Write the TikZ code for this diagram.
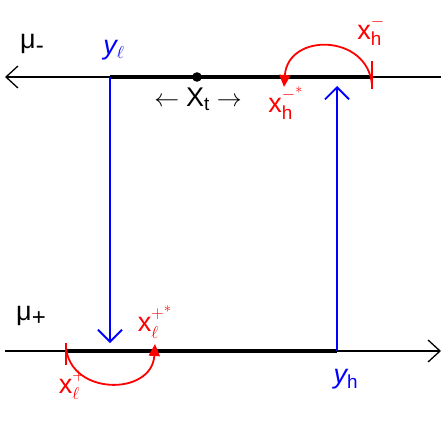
\documentclass[tikz,border=0pt]{standalone}
\usepackage{fontspec}
\setmainfont{Liberation Sans}
\usetikzlibrary{arrows.meta}
\newcommand\upsup[1]{\raisebox{4pt}{$\scriptstyle #1$}}
\begin{document}
\begin{tikzpicture}[x=1pt,y=-1pt,
  axis/.style={line width=1.3pt,black},
  seg/.style={line width=3.4pt,black},
  blueline/.style={blue,line width=1.8pt,-{Straight Barb[length=12pt,width=24pt,line width=1.8pt]}},
  redtick/.style={red,line width=1.8pt},
  redarc/.style={red,line width=1.8pt,-{Triangle[length=12pt,width=11pt]}},
  lab/.style={font=\fontsize{27}{30}\selectfont,inner sep=0pt},
  redlab/.style={lab,red},
  bluelab/.style={lab,blue}]
\useasboundingbox (0,0) rectangle (447,439);
% coordinates
\coordinate (TL) at (5,77);
\coordinate (TR) at (441,77);
\coordinate (BL) at (5,351);
\coordinate (BR) at (441,351);
\coordinate (YL) at (110,77);
\coordinate (YLb) at (110,343);
\coordinate (YH) at (337,351);
\coordinate (YHt) at (337,86);
\coordinate (XHm) at (372,77);
\coordinate (XLp) at (66,351);
% axes
\draw[axis,-{Straight Barb[length=12pt,width=22pt,line width=1.3pt]}] (TR) -- (TL);
\draw[axis,-{Straight Barb[length=12pt,width=22pt,line width=1.3pt]}] (BL) -- (BR);
\draw[seg] (YL) -- (XHm);
\draw[seg] (XLp) -- (YH);
\fill (197,77) circle (4.8pt);
% blue arrows
\draw[blueline] (YL) -- (YLb);
\draw[blueline] (YH) -- (YHt);
% red ticks and arcs
\draw[redtick] ([yshift=-12pt]XHm) -- ([yshift=16pt]XHm);
\draw[redarc] ([yshift=-8pt]XHm) .. controls (368,34) and (288,32) .. (284,87);
\draw[redtick] ([yshift=-14pt]XLp) -- ([yshift=8pt]XLp);
\draw[redarc] ([yshift=4pt]XLp) .. controls (70,396) and (152,396) .. (155,344);
% labels
\node[lab] (mum) at (32,44) {μ\raisebox{-5pt}{\fontsize{24}{26}\selectfont -}};
\node[lab] (mup) at (31,316) {μ\raisebox{-5pt}{\fontsize{24}{26}\selectfont +}};
\node[bluelab] (yl) at (114,50) {$\mathit{y}_{\ell}$};
\node[bluelab] (yh) at (346,379) {$\mathit{y}_{\mathrm{h}}$};
\node[lab] (xt) at (198,99) {$\leftarrow\mathrm{X}_{\mathrm{t}}\rightarrow$};
\node[redlab] (xhm) at (371,31) {$\mathrm{x}_{\mathrm{h}}^{\upsup{-}}$};
\node[redlab] (xhms) at (286,103) {$\mathrm{x}_{\mathrm{h}}^{\upsup{-^{*}}}$};
\node[redlab] (xlps) at (155,322) {$\mathrm{x}_{\ell}^{\upsup{+^{*}}}$};
\node[redlab] (xlp) at (72,385) {$\mathrm{x}_{\ell}^{\upsup{+}}$};
\end{tikzpicture}
\end{document}
